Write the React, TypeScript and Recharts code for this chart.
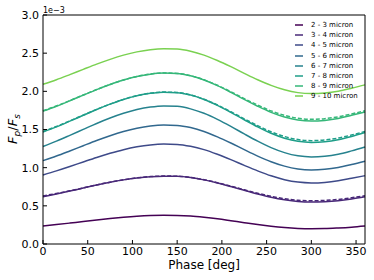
import React from 'react';
import { LineChart, Line, XAxis, YAxis } from 'recharts';

const FONT = '"DejaVu Sans", sans-serif';

// phase grid [deg]
const phase = [0, 15, 30, 45, 60, 75, 90, 105, 120, 135, 150, 165, 180, 195, 210, 225, 240, 255, 270, 285, 300, 315, 330, 345, 360];

// Fp/Fs in units of 1e-3
const m23 = [0.236, 0.254, 0.274, 0.295, 0.315, 0.334, 0.350, 0.363, 0.372, 0.376, 0.374, 0.366, 0.350, 0.330, 0.305, 0.279, 0.254, 0.232, 0.215, 0.204, 0.200, 0.202, 0.210, 0.221, 0.236];
const m34 = [0.620, 0.655, 0.693, 0.733, 0.773, 0.809, 0.840, 0.865, 0.882, 0.889, 0.887, 0.870, 0.840, 0.800, 0.753, 0.703, 0.655, 0.612, 0.579, 0.557, 0.550, 0.555, 0.568, 0.591, 0.620];
const m34d = [0.630, 0.662, 0.697, 0.735, 0.774, 0.810, 0.841, 0.866, 0.883, 0.890, 0.888, 0.871, 0.842, 0.803, 0.758, 0.710, 0.665, 0.625, 0.594, 0.573, 0.566, 0.571, 0.584, 0.606, 0.632];
const m45 = [0.905, 0.958, 1.015, 1.075, 1.134, 1.188, 1.236, 1.273, 1.298, 1.309, 1.305, 1.280, 1.236, 1.175, 1.105, 1.030, 0.958, 0.893, 0.843, 0.811, 0.800, 0.807, 0.828, 0.861, 0.895];
const m56 = [1.092, 1.152, 1.219, 1.288, 1.356, 1.419, 1.474, 1.517, 1.546, 1.559, 1.554, 1.525, 1.474, 1.404, 1.323, 1.236, 1.152, 1.078, 1.020, 0.983, 0.970, 0.978, 1.002, 1.041, 1.085];
const m67 = [1.278, 1.347, 1.423, 1.501, 1.579, 1.650, 1.712, 1.761, 1.794, 1.809, 1.803, 1.770, 1.712, 1.633, 1.541, 1.442, 1.347, 1.263, 1.197, 1.155, 1.140, 1.149, 1.176, 1.220, 1.270];
const m78 = [1.466, 1.534, 1.609, 1.686, 1.762, 1.832, 1.894, 1.942, 1.974, 1.989, 1.983, 1.951, 1.894, 1.816, 1.725, 1.628, 1.534, 1.451, 1.386, 1.345, 1.330, 1.339, 1.366, 1.409, 1.460];
const m78d = [1.475, 1.540, 1.613, 1.689, 1.764, 1.833, 1.895, 1.943, 1.975, 1.990, 1.984, 1.953, 1.897, 1.821, 1.733, 1.640, 1.550, 1.470, 1.408, 1.368, 1.354, 1.362, 1.388, 1.428, 1.475];
const m89 = [1.740, 1.805, 1.876, 1.950, 2.023, 2.089, 2.148, 2.194, 2.225, 2.239, 2.234, 2.203, 2.148, 2.074, 1.987, 1.894, 1.805, 1.725, 1.664, 1.624, 1.610, 1.619, 1.644, 1.686, 1.730];
const m89d = [1.745, 1.809, 1.879, 1.952, 2.024, 2.090, 2.149, 2.195, 2.226, 2.240, 2.235, 2.205, 2.151, 2.079, 1.994, 1.905, 1.820, 1.744, 1.686, 1.648, 1.634, 1.642, 1.666, 1.704, 1.745];
const m910 = [2.092, 2.152, 2.219, 2.288, 2.356, 2.419, 2.474, 2.517, 2.546, 2.559, 2.554, 2.525, 2.474, 2.404, 2.323, 2.236, 2.152, 2.078, 2.020, 1.983, 1.970, 1.978, 2.002, 2.041, 2.085];

const xTicks = [0, 50, 100, 150, 200, 250, 300, 350];
const yTicks = [0, 0.5, 1.0, 1.5, 2.0, 2.5, 3.0];

const series = [
  { key: 'm23', name: '2 - 3 micron', color: '#440154', values: m23 },
  { key: 'm34', name: '3 - 4 micron', color: '#482878', values: m34 },
  { key: 'm45', name: '4 - 5 micron', color: '#3e4a89', values: m45 },
  { key: 'm56', name: '5 - 6 micron', color: '#31688e', values: m56 },
  { key: 'm67', name: '6 - 7 micron', color: '#26828e', values: m67 },
  { key: 'm78', name: '7 - 8 micron', color: '#1f9e89', values: m78 },
  { key: 'm89', name: '8 - 9 micron', color: '#35b779', values: m89 },
  { key: 'm910', name: '9 - 10 micron', color: '#7ad151', values: m910 },
];

// dashed companions (only visible where they split from the solid curve)
const dashed = [
  { key: 'm34d', color: '#482878', values: m34d },
  { key: 'm78d', color: '#1f9e89', values: m78d },
  { key: 'm89d', color: '#35b779', values: m89d },
];

const data = phase.map((p, i) => {
  const row: Record<string, number> = { phase: p };
  series.forEach(s => { row[s.key] = s.values[i]; });
  dashed.forEach(s => { row[s.key] = s.values[i]; });
  return row;
});

const tickStyle = { fill: '#000', fontSize: 11, fontFamily: FONT };

const App: React.FC = () => {
  return (
    <div style={{ position: 'absolute', left: 0, top: 0, width: 374, height: 280, background: '#fff' }}>
      <LineChart width={374} height={280} data={data} margin={{ top: 14, right: 8, left: 0, bottom: 0 }}>
        <XAxis
          dataKey="phase"
          type="number"
          domain={[0, 360]}
          ticks={xTicks}
          height={36}
          tickSize={-4}
          tickMargin={7}
          stroke="#000"
          tick={tickStyle}
          label={{
            content: () => (
              <text x={204} y={269} textAnchor="middle" fontSize={12} fontFamily={FONT} fill="#000">
                Phase [deg]
              </text>
            ),
          }}
        />
        <XAxis
          xAxisId="top"
          orientation="top"
          dataKey="phase"
          type="number"
          domain={[0, 360]}
          ticks={xTicks}
          height={1}
          tickSize={-4}
          tick={false}
          stroke="#000"
        />
        <YAxis
          type="number"
          domain={[0, 3]}
          ticks={yTicks}
          width={43}
          tickSize={-4}
          tickMargin={8}
          stroke="#000"
          tick={tickStyle}
          tickFormatter={(v: number) => v.toFixed(1)}
          label={{
            content: () => (
              <g>
                <text x={43} y={13} fontSize={8} fontFamily={FONT} fill="#000">1e−3</text>
                <text transform="translate(17,129) rotate(-90)" textAnchor="middle" fontSize={13} fontFamily={FONT} fill="#000">
                  <tspan fontStyle="italic">F</tspan>
                  <tspan fontStyle="italic" fontSize={9} dy={3}>p</tspan>
                  <tspan dy={-3}>/</tspan>
                  <tspan fontStyle="italic">F</tspan>
                  <tspan fontStyle="italic" fontSize={9} dy={3}>s</tspan>
                </text>
              </g>
            ),
          }}
        />
        <YAxis
          yAxisId="right"
          orientation="right"
          type="number"
          domain={[0, 3]}
          ticks={yTicks}
          width={1}
          tickSize={-4}
          tick={false}
          stroke="#000"
        />
        {series.map(s => (
          <Line
            key={s.key}
            type="monotone"
            dataKey={s.key}
            stroke={s.color}
            strokeWidth={1.5}
            dot={false}
            isAnimationActive={false}
          />
        ))}
        {dashed.map(s => (
          <Line
            key={s.key}
            type="monotone"
            dataKey={s.key}
            stroke={s.color}
            strokeWidth={1.5}
            strokeDasharray="4 2"
            dot={false}
            isAnimationActive={false}
          />
        ))}
      </LineChart>
      <div style={{ position: 'absolute', left: 291, top: 20, fontFamily: FONT, fontSize: 7, color: '#000' }}>
        {series.map(s => (
          <div key={s.key} style={{ display: 'flex', alignItems: 'center', height: 10.2 }}>
            <svg width={20} height={4} style={{ display: 'block' }}>
              <line x1={4} y1={2} x2={12} y2={2} stroke={s.color} strokeWidth={1.5} />
            </svg>
            <span>{s.name}</span>
          </div>
        ))}
      </div>
    </div>
  );
};

export default App;
